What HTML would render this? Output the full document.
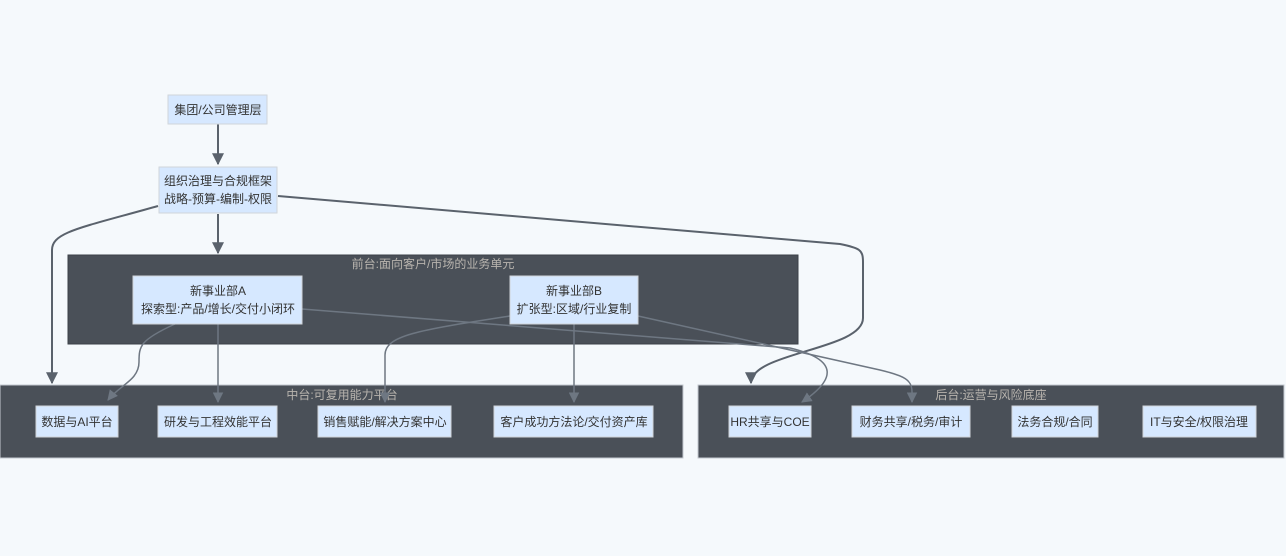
<!DOCTYPE html>
<html><head><meta charset="utf-8"><style>
html,body{margin:0;padding:0;background:#f5f9fc;}
svg{display:block;font-family:"Liberation Sans","Noto Sans CJK SC",sans-serif;}
.n{fill:#d6e8ff;stroke:#d0d5da;stroke-width:1}
.t{font-size:12px;fill:#333;text-anchor:middle}
.g{font-size:12px;fill:#b8b4ae;text-anchor:middle}
.e{fill:none;stroke:#5a626c;stroke-width:2}
.f{fill:none;stroke:#6e7782;stroke-width:1.5}
</style></head><body>
<svg width="1286" height="556" viewBox="0 0 1286 556">
<defs>
<marker id="a" viewBox="0 0 10 10" refX="9" refY="5" markerWidth="6" markerHeight="6" orient="auto"><path d="M0,0L10,5L0,10z" fill="#5a626c"/></marker>
<marker id="b" viewBox="0 0 10 10" refX="9" refY="5" markerWidth="7" markerHeight="7" orient="auto"><path d="M0,0L10,5L0,10z" fill="#6e7782"/></marker>
</defs>
<rect x="68" y="255" width="730" height="89" fill="#4a5058" stroke="#3c4148"/>
<rect x="0" y="385" width="683" height="73" fill="#4a5058" stroke="#c4c9cf"/>
<rect x="698" y="385" width="586" height="73" fill="#4a5058" stroke="#c4c9cf"/>
<text class="g" x="433" y="268">前台:面向客户/市场的业务单元</text>
<text class="g" x="342" y="399">中台:可复用能力平台</text>
<text class="g" x="991" y="399">后台:运营与风险底座</text>

<path class="e" d="M218,124V164" marker-end="url(#a)"/>
<path class="e" d="M218,214V253" marker-end="url(#a)"/>
<path class="e" d="M158,206C80,228 52,232 52,250V383" marker-end="url(#a)"/>
<path class="e" d="M278,196L840,244C860,248 863,250 863,262V318C863,350 751,352 751,383" marker-end="url(#a)"/>

<path class="f" d="M175,324C140,340 139,346 139,362C139,380 120,385 108,400" marker-end="url(#b)"/>
<path class="f" d="M218,324V402" marker-end="url(#b)"/>
<path class="f" d="M302,309L790,348C840,360 835,380 802,402" marker-end="url(#b)"/>
<path class="f" d="M510,316C420,330 385,335 385,355V402" marker-end="url(#b)"/>
<path class="f" d="M574,324V402" marker-end="url(#b)"/>
<path class="f" d="M638,316L880,370C905,376 912,380 912,392V402" marker-end="url(#b)"/>

<rect class="n" x="168" y="95" width="99" height="29"/>
<text class="t" x="218" y="114">集团/公司管理层</text>
<rect class="n" x="159" y="167" width="118" height="46"/>
<text class="t" x="218" y="185">组织治理与合规框架</text>
<text class="t" x="218" y="203">战略-预算-编制-权限</text>
<rect class="n" x="133" y="276" width="169" height="48"/>
<text class="t" x="218" y="295">新事业部A</text>
<text class="t" x="218" y="313">探索型:产品/增长/交付小闭环</text>
<rect class="n" x="510" y="276" width="128" height="48"/>
<text class="t" x="574" y="295">新事业部B</text>
<text class="t" x="574" y="313">扩张型:区域/行业复制</text>

<rect class="n" x="36" y="406" width="82" height="31"/>
<text class="t" x="77" y="426">数据与AI平台</text>
<rect class="n" x="158" y="406" width="119" height="31"/>
<text class="t" x="218" y="426">研发与工程效能平台</text>
<rect class="n" x="318" y="406" width="133" height="31"/>
<text class="t" x="385" y="426">销售赋能/解决方案中心</text>
<rect class="n" x="494" y="406" width="159" height="31"/>
<text class="t" x="574" y="426">客户成功方法论/交付资产库</text>

<rect class="n" x="729" y="406" width="82" height="31"/>
<text class="t" x="770" y="426">HR共享与COE</text>
<rect class="n" x="852" y="406" width="118" height="31"/>
<text class="t" x="911" y="426">财务共享/税务/审计</text>
<rect class="n" x="1012" y="406" width="86" height="31"/>
<text class="t" x="1055" y="426">法务合规/合同</text>
<rect class="n" x="1143" y="406" width="113" height="31"/>
<text class="t" x="1199" y="426">IT与安全/权限治理</text>
</svg>
</body></html>
